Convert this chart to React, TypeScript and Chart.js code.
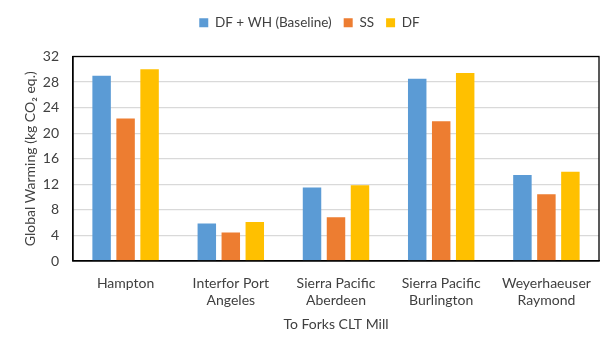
import React, { useEffect, useRef } from "react";
import { Chart, registerables } from "chart.js";
Chart.register(...registerables);

const categories: (string | string[])[] = [
  "Hampton",
  ["Interfor Port", "Angeles"],
  ["Sierra Pacific", "Aberdeen"],
  ["Sierra Pacific", "Burlington"],
  ["Weyerhaeuser", "Raymond"],
];
const baselineValues = [29.0, 5.85, 11.5, 28.5, 13.45];
const ssValues = [22.3, 4.45, 6.85, 21.85, 10.45];
const dfValues = [30.0, 6.1, 11.85, 29.4, 13.95];
const yTicks = [0, 4, 8, 12, 16, 20, 24, 28, 32];

const FONT = "Lato, 'Open Sans', sans-serif";
const TEXT = "#404040";

const framePlugin = {
  id: "frame",
  beforeLayout(chart: any) {
    const lg = chart.legend;
    if (lg && !lg.__patched) {
      const orig = lg.fit;
      lg.fit = function (this: any) {
        orig.call(this);
        this.height += 17;
      };
      lg.__patched = true;
    }
  },
  afterDraw(chart: any) {
    const { ctx, chartArea } = chart;
    ctx.save();
    ctx.strokeStyle = "#000";
    ctx.lineWidth = 1.3;
    ctx.strokeRect(chartArea.left, chartArea.top, chartArea.right - chartArea.left, chartArea.bottom - chartArea.top);
    ctx.restore();
  },
};

export default function App() {
  const ref = useRef<HTMLCanvasElement>(null);
  useEffect(() => {
    document.body.style.margin = "0";
    const chart = new Chart(ref.current!, {
      type: "bar",
      data: {
        labels: categories,
        datasets: [
          { label: "DF + WH (Baseline)", data: baselineValues, backgroundColor: "#5b9bd5" },
          { label: "SS", data: ssValues, backgroundColor: "#ed7d31" },
          { label: "DF", data: dfValues, backgroundColor: "#ffc000" },
        ],
      },
      options: {
        animation: false,
        responsive: false,
        maintainAspectRatio: false,
        datasets: { bar: { categoryPercentage: 0.684, barPercentage: 0.77 } },
        layout: { padding: { top: 4, right: 17, left: 20, bottom: 17 } },
        plugins: {
          legend: {
            position: "top",
            labels: {
              boxWidth: 9,
              boxHeight: 9,
              padding: 12,
              color: TEXT,
              font: { family: FONT, size: 13.5 },
            },
          },
          tooltip: { enabled: false },
        },
        scales: {
          x: {
            grid: { display: false, drawTicks: false },
            border: { display: true, color: "#000", width: 1.3 },
            ticks: { color: TEXT, font: { family: FONT, size: 14 }, padding: 14, maxRotation: 0, autoSkip: false },
            title: { display: true, text: "To Forks CLT Mill", color: TEXT, font: { family: FONT, size: 14 }, padding: { top: 2 } },
            afterFit(scale: any) { scale.height = 76; },
          },
          y: {
            min: 0,
            max: 32,
            afterBuildTicks(scale: any) { scale.ticks = yTicks.map((v) => ({ value: v })); },
            grid: { color: "#d9d9d9", lineWidth: 1.3, drawTicks: false },
            border: { display: true, color: "#000", width: 1.3 },
            ticks: { color: TEXT, font: { family: FONT, size: 14 }, padding: 14 },
            title: { display: true, text: "Global Warming (kg CO\u2082 eq.)", color: TEXT, font: { family: FONT, size: 14 }, padding: 2 },
            afterFit(scale: any) { scale.width = 53; },
          },
        },
      },
      plugins: [framePlugin],
    });
    return () => chart.destroy();
  }, []);
  return (
    <div style={{ width: 616, height: 354, background: "#fff" }}>
      <canvas ref={ref} width={616} height={354} />
    </div>
  );
}
